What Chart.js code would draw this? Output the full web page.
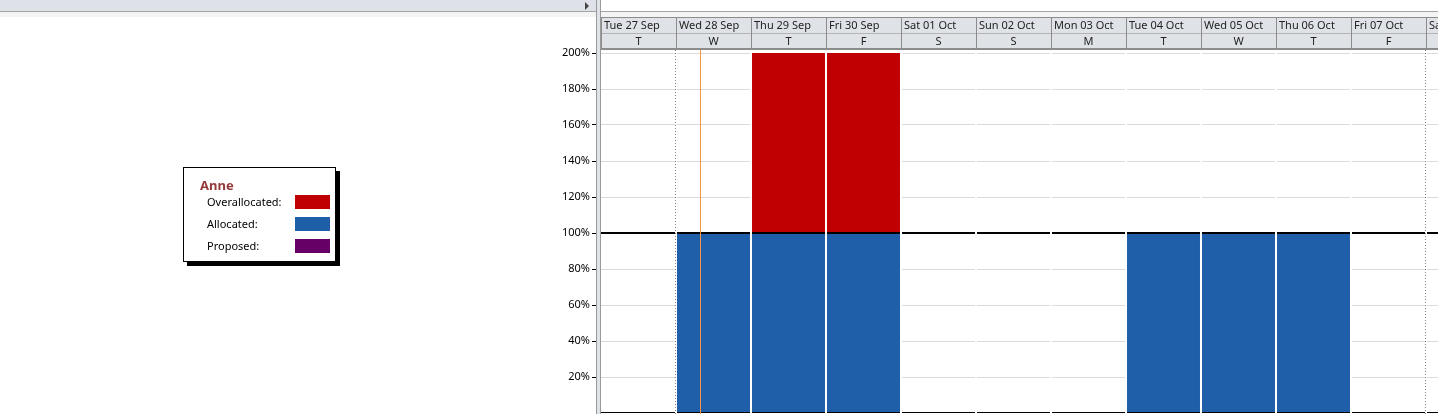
<!DOCTYPE html>
<html>
<head>
<meta charset="utf-8">
<title>Resource Graph - Anne</title>
<script src="https://cdn.jsdelivr.net/npm/chart.js@4.4.0/dist/chart.umd.min.js"></script>
<style>
	html, body { margin: 0; padding: 0; width: 1438px; height: 414px; overflow: hidden; background: #fff; font-family: "Noto Sans", "Open Sans", sans-serif; }
	#topbar { position: absolute; left: 0; top: 0; width: 596px; height: 11px; background: #dee2e8; }
	#topbar .arrow { position: absolute; left: 585px; top: 2px; width: 0; height: 0; border-top: 4px solid transparent; border-bottom: 4px solid transparent; border-left: 4px solid #444; }
	#topline { position: absolute; left: 0; top: 11px; width: 1438px; height: 1px; background: #a3a3a3; }
	#topgap { position: absolute; left: 0; top: 12px; width: 1438px; height: 5px; background: #f4f4f4; }
	#split { position: absolute; left: 596px; top: 0; width: 3px; height: 414px; background: #dfe3e8; border-left: 1px solid #9a9a9a; border-right: 1px solid #9a9a9a; z-index: 2; }
	#graph { position: absolute; left: 0; top: 17px; }
	#legend { position: absolute; left: 183px; top: 167px; width: 153px; height: 95px; box-sizing: border-box; border: 1px solid #000; background: #fff; box-shadow: 4px 4px 0 #000; }
	#legend .title { position: absolute; left: 16px; top: 8px; font-size: 13px; font-weight: bold; color: #953a3a; }
	#legend .row { position: absolute; left: 23px; font-size: 11px; color: #000; line-height: 14px; }
	#legend .swatch { position: absolute; left: 111px; width: 35px; height: 14px; }
</style>
</head>
<body>
<div id="topbar"><div class="arrow"></div></div>
<div id="topline"></div>
<div id="topgap"></div>
<div id="split"></div>
<canvas id="graph" width="1501" height="397"></canvas>
<div id="legend"></div>

<script>
	// Timescale
	const days = ['Tue 27 Sep', 'Wed 28 Sep', 'Thu 29 Sep', 'Fri 30 Sep', 'Sat 01 Oct', 'Sun 02 Oct',
		'Mon 03 Oct', 'Tue 04 Oct', 'Wed 05 Oct', 'Thu 06 Oct', 'Fri 07 Oct', 'Sat 08 Oct'];
	const dayLetters = ['T', 'W', 'T', 'F', 'S', 'S', 'M', 'T', 'W', 'T', 'F', 'S'];

	// Peak units (%) per day
	const allocated = [0, 100, 100, 100, 0, 0, 0, 100, 100, 100, 0, 0];
	const overallocated = [0, 0, 100, 100, 0, 0, 0, 0, 0, 0, 0, 0];
	const proposed = [0, 0, 0, 0, 0, 0, 0, 0, 0, 0, 0, 0];

	const resourceName = 'Anne';
	const maxUnits = 100;
	const yTicks = [20, 40, 60, 80, 100, 120, 140, 160, 180, 200];

	// Dotted markers (column starts) and status date (day index + fraction)
	const dottedAt = [1, 11];
	const statusDate = 1.32;

	const series = [
		{ name: 'Overallocated:', color: '#c00000' },
		{ name: 'Allocated:', color: '#1f5ea8' },
		{ name: 'Proposed:', color: '#660066' }
	];

	// Legend box
	const legend = document.getElementById('legend');
	let html = '<div class="title">' + resourceName + '</div>';
	series.forEach((s, i) => {
		const top = 27 + i * 22;
		html += '<div class="row" style="top:' + top + 'px">' + s.name + '</div>';
		html += '<div class="swatch" style="top:' + top + 'px;background:' + s.color + '"></div>';
	});
	legend.innerHTML = html;

	function colEdge(xs, i) {
		const w = xs.width / days.length;
		return xs.left + i * w;
	}

	const timescale = {
		id: 'timescale',
		afterDraw(chart) {
			const c = chart.ctx;
			const xs = chart.scales.x;
			const area = chart.chartArea;
			c.save();
			c.fillStyle = '#dfe3e8';
			c.fillRect(area.left, 0, area.right - area.left, 32);
			c.fillStyle = '#8c8c8c';
			c.fillRect(area.left, 0, area.right - area.left, 1);
			c.fillRect(area.left, 31, area.right - area.left, 2);
			c.fillStyle = '#b4b4b4';
			c.fillRect(area.left, 16, area.right - area.left, 1);
			c.fillStyle = '#8c8c8c';
			for (let i = 0; i <= days.length; i++) {
				c.fillRect(Math.round(colEdge(xs, i)), 0, 1, 32);
			}
			c.fillStyle = '#222';
			c.font = '11px "Noto Sans", "Open Sans", sans-serif';
			c.textBaseline = 'middle';
			days.forEach((d, i) => {
				c.textAlign = 'left';
				c.fillText(d, colEdge(xs, i) + 3, 8.5);
				c.textAlign = 'center';
				c.fillText(dayLetters[i], xs.getPixelForValue(i), 24.5);
			});
			c.restore();
		},
		afterDatasetsDraw(chart) {
			const c = chart.ctx;
			const xs = chart.scales.x;
			const ys = chart.scales.y;
			const area = chart.chartArea;
			c.save();
			c.fillStyle = '#000';
			// max units line
			const y100 = ys.getPixelForValue(maxUnits);
			c.fillRect(area.left, Math.round(y100) - 1, area.right - area.left, 2);
			// bottom line (0%)
			c.fillRect(area.left, Math.round(ys.getPixelForValue(0)) - 1, area.right - area.left, 1);
			// white separators between days
			c.fillStyle = '#fff';
			for (let i = 1; i < days.length; i++) {
				c.fillRect(Math.round(colEdge(xs, i)) - 1, area.top - 1, 2, area.bottom - area.top + 2);
			}
			// dotted markers
			c.strokeStyle = '#808080';
			c.lineWidth = 1;
			c.setLineDash([1, 2]);
			dottedAt.forEach(i => {
				const x = Math.round(colEdge(xs, i)) - 0.5;
				c.beginPath();
				c.moveTo(x, area.top - 3);
				c.lineTo(x, area.bottom + 1);
				c.stroke();
			});
			// status date
			c.setLineDash([]);
			c.strokeStyle = '#f79646';
			const xs0 = Math.round(colEdge(xs, statusDate)) + 0.5;
			c.beginPath();
			c.moveTo(xs0, area.top - 4);
			c.lineTo(xs0, area.bottom + 1);
			c.stroke();
			c.restore();
		}
	};

	new Chart(document.getElementById('graph'), {
		type: 'bar',
		data: {
			labels: days,
			datasets: [
				{ label: 'Allocated', data: allocated, backgroundColor: series[1].color, borderWidth: 0 },
				{ label: 'Overallocated', data: overallocated, backgroundColor: series[0].color, borderWidth: 0 },
				{ label: 'Proposed', data: proposed, backgroundColor: series[2].color, borderWidth: 0 }
			]
		},
		options: {
			responsive: false,
			animation: false,
			devicePixelRatio: 1,
			layout: { padding: { top: 36, bottom: 1, left: 0, right: 0 } },
			datasets: {
				bar: { categoryPercentage: 1, barPercentage: 0.973 }
			},
			plugins: {
				legend: { display: false },
				tooltip: { enabled: false }
			},
			scales: {
				x: {
					display: false,
					stacked: true
				},
				y: {
					stacked: true,
					min: 0,
					max: 200,
					afterFit: (scale) => {
						scale.width = 601;
						scale.paddingTop = 0;
						scale.paddingBottom = 0;
					},
					afterBuildTicks: (scale) => { scale.ticks = yTicks.map(v => ({ value: v })); },
					border: { display: false },
					grid: {
						color: '#dadada',
						tickColor: '#000',
						tickLength: 9,
						lineWidth: 1
					},
					ticks: {
						padding: 2,
						color: '#000',
						font: { family: '"Noto Sans", "Open Sans", sans-serif', size: 11 },
						callback: v => v + '%'
					}
				}
			}
		},
		plugins: [timescale]
	});
</script>
</body>
</html>
